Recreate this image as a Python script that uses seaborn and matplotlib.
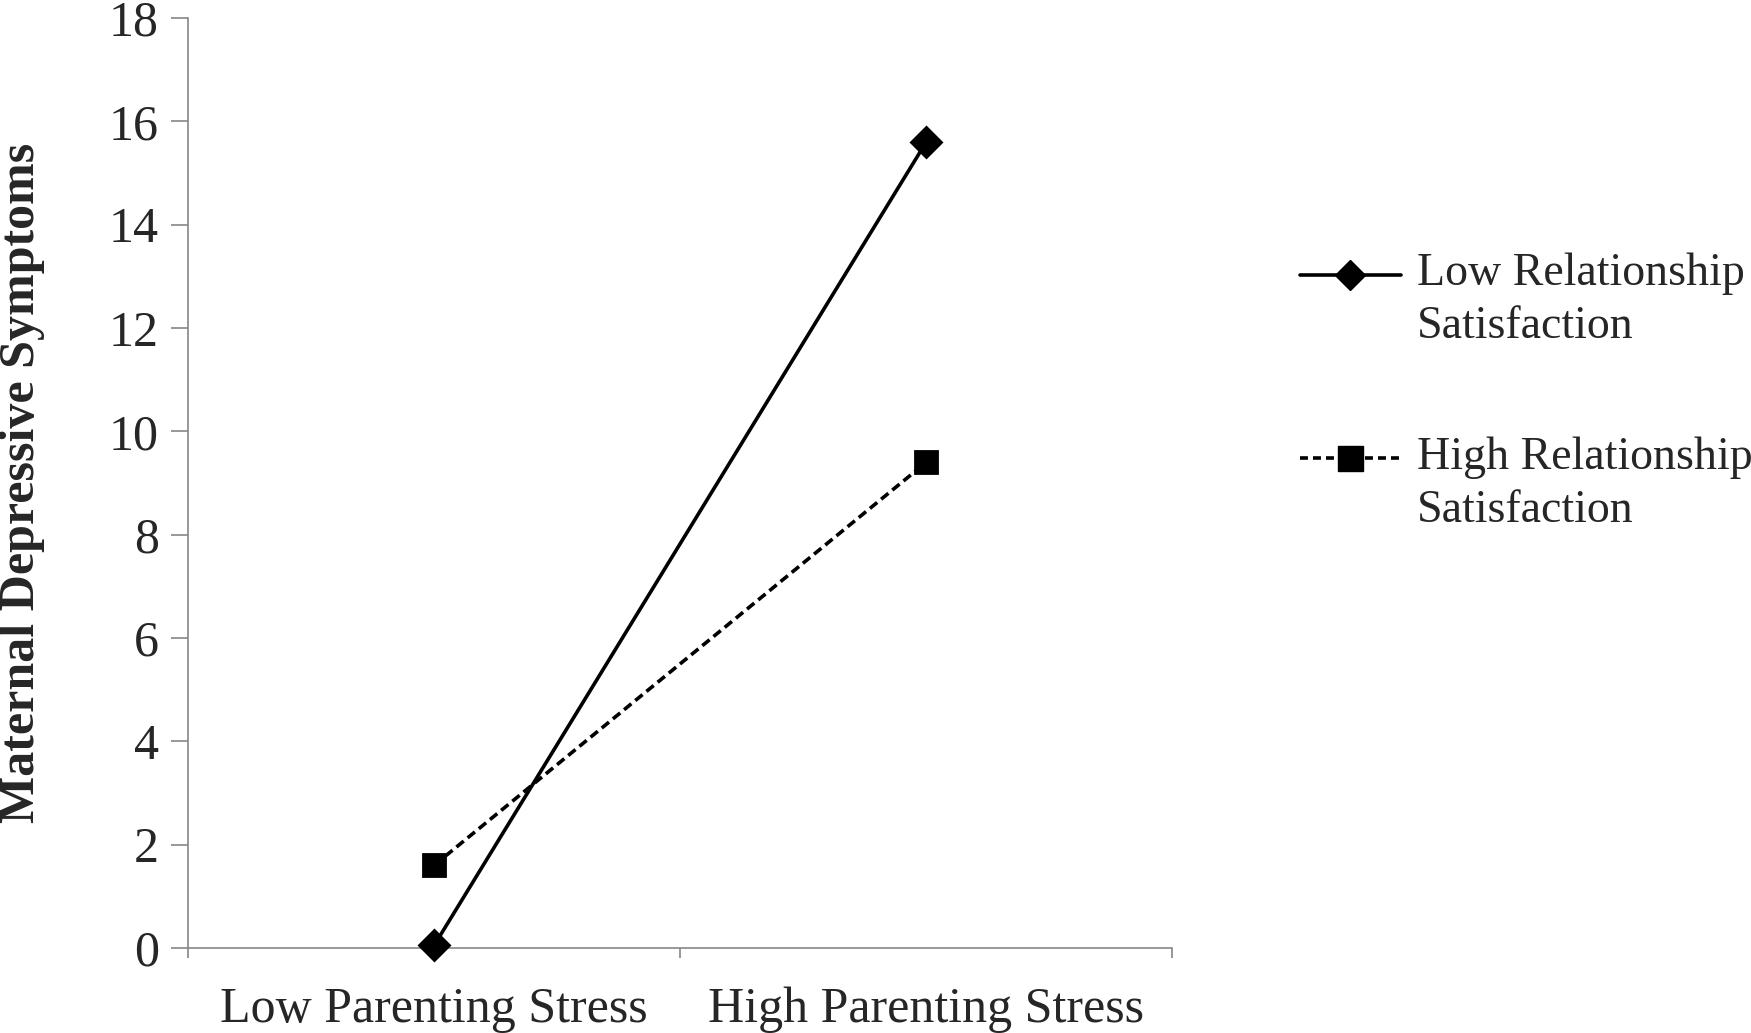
import pandas as pd
import numpy as np
import matplotlib
matplotlib.use('Agg')
import matplotlib.pyplot as plt
import seaborn as sns

# data
stress_levels = ['Low Parenting Stress', 'High Parenting Stress']
groups = ['Low Relationship\nSatisfaction', 'High Relationship\nSatisfaction']
low_sat_values = [0.05, 15.6]
high_sat_values = [1.6, 9.4]
y_ticks = [0, 2, 4, 6, 8, 10, 12, 14, 16, 18]

df = pd.DataFrame({
    'Stress': stress_levels * 2,
    'Group': [groups[0]] * 2 + [groups[1]] * 2,
    'Symptoms': low_sat_values + high_sat_values,
})

sns.set_style('white')
plt.rcParams['font.family'] = ['Liberation Serif', 'DejaVu Serif']

fig = plt.figure(figsize=(17.51, 10.33), dpi=100)
ax = fig.add_axes([0.1074, 0.0823, 0.5621, 0.9003])

sns.pointplot(data=df, x='Stress', y='Symptoms', hue='Group', order=stress_levels,
              hue_order=groups, palette=['black', 'black'], markers=['D', 's'],
              linestyles=['-', '--'], errorbar=None, ax=ax, legend=False)

# the markers sit on the axis at y=0, so don't clip them
for ln, ms in zip(ax.lines, [15, 16]):
    ln.set_linewidth(2.6)
    ln.set_markersize(ms)
    ln.set_clip_on(False)
    ln.set_zorder(5)
ax.lines[1].set_dashes((2.6, 1.4))

ax.set_xlim(-0.5, 1.5)
ax.set_ylim(0, 18)
ax.set_yticks(y_ticks)
ax.set_xlabel('')
ax.set_ylabel('Maternal Depressive Symptoms', fontsize=36, fontweight='bold')
ax.yaxis.set_label_coords(-0.145, 0.5)

ax.tick_params(axis='y', which='major', labelsize=36, length=12, width=1.2,
               color='#868686', pad=9, left=True)
ax.tick_params(axis='x', which='major', labelsize=36, length=0, pad=28)
ax.set_xticks([-0.5, 0.5, 1.5], minor=True)
ax.tick_params(axis='x', which='minor', length=7, width=1.2, color='#868686', bottom=True)

for s in ['top', 'right']:
    ax.spines[s].set_visible(False)
for s in ['left', 'bottom']:
    ax.spines[s].set_color('#868686')
    ax.spines[s].set_linewidth(1.2)

handles = [
    plt.Line2D([], [], color='black', lw=2.6, marker='D', markersize=15),
    plt.Line2D([], [], color='black', lw=2.6, ls='--', dashes=(2.2, 1.4), marker='s', markersize=18),
]
leg = fig.legend(handles, groups, loc='upper left', bbox_to_anchor=(0.732, 0.773),
                 frameon=False, fontsize=33, handlelength=2.2, handletextpad=0.35,
                 labelspacing=1.92, borderaxespad=0)
for t in leg.get_texts():
    t.set_linespacing(1.32)
# put each handle level with the first line of its label
for h in leg.legend_handles:
    h.set_ydata(np.asarray(h.get_ydata()) + 18.5)

fig.savefig('out.png', dpi=100, facecolor='white')
